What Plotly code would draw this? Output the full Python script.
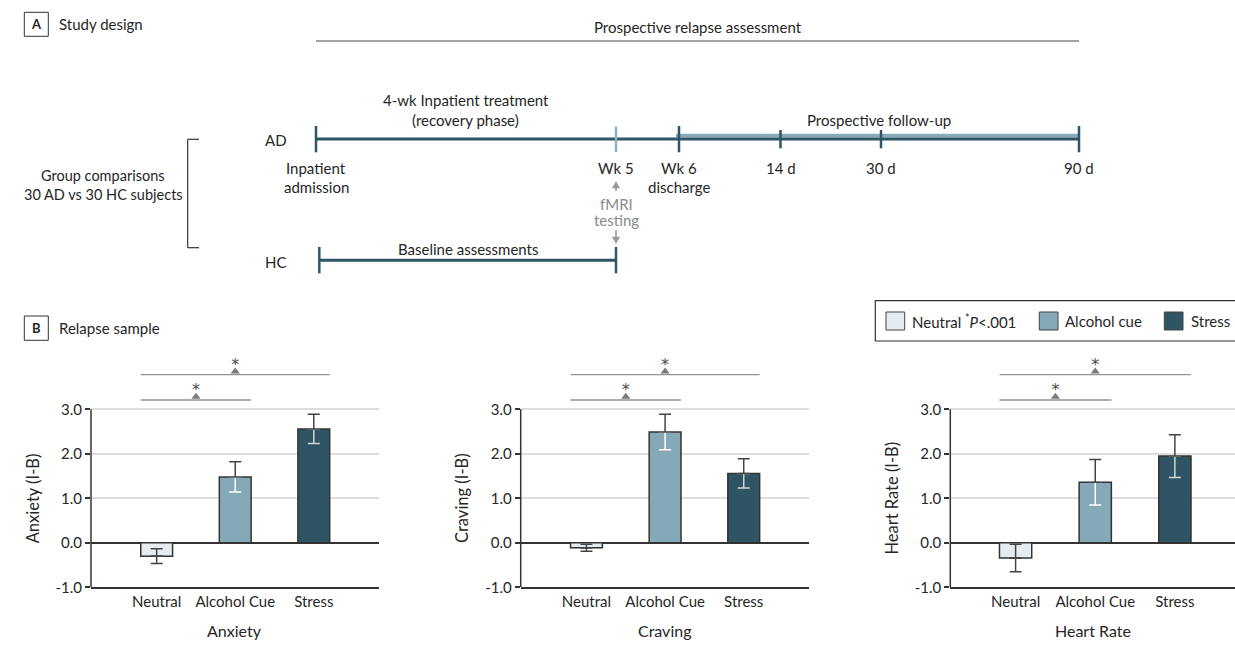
import plotly.graph_objects as go

# ---------------- data ----------------
conditions = ["Neutral", "Alcohol Cue", "Stress"]
legend_labels = ["Neutral <sup>*</sup><i>P</i>&lt;.001", "Alcohol cue", "Stress"]
measures = ["Anxiety", "Craving", "Heart Rate"]
y_titles = ["Anxiety (I-B)", "Craving (I-B)", "Heart Rate (I-B)"]

anxiety_mean = [-0.30, 1.48, 2.56]
anxiety_se = [0.165, 0.34, 0.33]
craving_mean = [-0.11, 2.49, 1.56]
craving_se = [0.08, 0.40, 0.33]
heart_rate_mean = [-0.34, 1.36, 1.95]
heart_rate_se = [0.31, 0.51, 0.48]

y_tickvals = [-1, 0, 1, 2, 3]
y_ticktext = ["-1.0", "0.0", "1.0", "2.0", "3.0"]

sig_pairs = [(0, 1), (0, 2)]   # Neutral vs Alcohol cue, Neutral vs Stress
sig_label = "*"

# timeline text
timeline_top = "Prospective relapse assessment"
timeline_marks = ["Inpatient<br>admission", "Wk 5", "Wk 6<br>discharge", "14 d", "30 d", "90 d"]

# ---------------- style ----------------
W, H = 1235, 651
FONT = "Lato"
TXT = "#262626"
AXC = "#333333"
TEAL = "#2f5564"
LIGHT = "#88abba"
bar_colors = ["#e5ebee", "#86a9b8", "#2f5564"]
inner_err_colors = ["#444444", "#ffffff", "#d0d6d9"]
BAR_W = 0.405
BR_LEVELS = [3.21, 3.78]

panels = [
    dict(mean=anxiety_mean, se=anxiety_se, dom=(91, 379), rng=(-0.836, 2.83)),
    dict(mean=craving_mean, se=craving_se, dom=(520.7, 809), rng=(-0.836, 2.83)),
    dict(mean=heart_rate_mean, se=heart_rate_se, dom=(950.3, 1235), rng=(-0.82, 2.755)),
]
Y_RANGE = [-1, 4.3]
Y_DOM = ((H - 587.3) / H, (H - 351.45) / H)


def px(x):
    return x / W


def py(y):
    return 1 - y / H


shapes = []
annotations = []


def text(s, x, y, size=15, color=TXT, xanchor="center", **kw):
    annotations.append(dict(text=s, x=px(x), y=py(y), xref="paper", yref="paper",
                            showarrow=False, xanchor=xanchor, yanchor="middle",
                            font=dict(family=FONT, size=size, color=color), **kw))


def line(x0, y0, x1, y1, color, width):
    shapes.append(dict(type="line", xref="paper", yref="paper", x0=px(x0), y0=py(y0),
                       x1=px(x1), y1=py(y1), line=dict(color=color, width=width)))


def rect(x0, y0, x1, y1, fill, lc, lw):
    shapes.append(dict(type="rect", xref="paper", yref="paper", x0=px(x0), y0=py(y0),
                       x1=px(x1), y1=py(y1), fillcolor=fill, line=dict(color=lc, width=lw)))


def tri(pts, color):
    d = "M " + " L ".join(f"{px(a)},{py(b)}" for a, b in pts) + " Z"
    shapes.append(dict(type="path", xref="paper", yref="paper", path=d,
                       fillcolor=color, line=dict(color=color, width=0.5)))


fig = go.Figure()

# ---------------- panel A: study design ----------------
rect(24.3, 12.3, 48.3, 36.3, "rgba(0,0,0,0)", AXC, 1)
text("<b>A</b>", 36.3, 24.5, size=13)
text("Study design", 57, 24, size=15, xanchor="left")

text(timeline_top, 698, 27)
line(316, 41, 1079, 41, "#858585", 1.5)

x_adm, x_wk5, x_wk6, x_14, x_30, x_90 = 316, 616, 679, 780.5, 881, 1079
y_ad, y_hc = 139, 260.3

text("AD", 275.5, 140)
rect(676, 133.8, x_90, 137.6, LIGHT, LIGHT, 0)
line(x_adm, y_ad, x_90, y_ad, TEAL, 3)
for xx in (x_adm, x_wk6, x_90):
    line(xx, 126, xx, 152.3, TEAL, 2.5)
for xx in (x_14, x_30):
    line(xx, 130, xx, 148.3, TEAL, 2.5)
line(x_wk5, 126.5, x_wk5, 152, "#8db2c2", 2.5)

mark_x = [x_adm, x_wk5, x_wk6, x_14, x_30, x_90]
for lab, xx in zip(timeline_marks, mark_x):
    parts = lab.split("<br>")
    for r, p in enumerate(parts):
        text(p, xx, 167.7 + 19 * r)

text("4-wk Inpatient treatment", 465.7, 100)
text("(recovery phase)", 465.7, 120)
text("Prospective follow-up", 879, 120)

# fMRI arrows
ARC = "#9a9a9a"
line(x_wk5, 187, x_wk5, 191, ARC, 1.6)
tri([(x_wk5, 181.5), (x_wk5 - 3.6, 188), (x_wk5 + 3.6, 188)], ARC)
line(x_wk5, 230, x_wk5, 237, ARC, 1.6)
tri([(x_wk5, 243.5), (x_wk5 - 3.6, 237), (x_wk5 + 3.6, 237)], ARC)
text("fMRI", x_wk5, 204.3, color="#8a8a8a")
text("testing", x_wk5, 220.5, color="#8a8a8a")

text("HC", 275, 261.7)
line(319.3, y_hc, x_wk5, y_hc, TEAL, 3)
for xx in (319.3, x_wk5):
    line(xx, 247, xx, 273.3, TEAL, 2.5)
text("Baseline assessments", 468, 249.3)

# group bracket
line(199, 139.3, 187.7, 139.3, AXC, 1.2)
line(187.7, 139.3, 187.7, 247.7, AXC, 1.2)
line(187.7, 247.7, 199, 247.7, AXC, 1.2)
text("Group comparisons", 103.3, 175, size=14.5)
text("30 AD vs 30 HC subjects", 103.3, 194, size=14.5)

# ---------------- panel B ----------------
rect(24.3, 316, 48.3, 340.3, "rgba(0,0,0,0)", AXC, 1)
text("<b>B</b>", 36.3, 328.3, size=13)
text("Relapse sample", 57, 328, size=15, xanchor="left")

# legend (manual)
rect(875.3, 300.7, 1240, 341, "rgba(0,0,0,0)", AXC, 1.2)
leg_sw = [886, 1039.3, 1164.3]
leg_tx = [910, 1063.3, 1189]
for c, sx, tx, lab in zip(bar_colors, leg_sw, leg_tx, legend_labels):
    rect(sx, 312, sx + 18.7, 330, c, "#444444", 1)
    text(lab, tx, 321.3, xanchor="left")

layout_axes = {}
for k, p in enumerate(panels):
    sfx = "" if k == 0 else str(k + 1)
    xa, ya = "x" + sfx, "y" + sfx
    xs = list(range(len(conditions)))
    mean, se = p["mean"], p["se"]

    fig.add_trace(go.Bar(x=xs, y=mean, width=BAR_W,
                         marker=dict(color=bar_colors, line=dict(color=AXC, width=1.5)),
                         xaxis=xa, yaxis=ya, showlegend=False, hoverinfo="skip"))
    # error bar part inside the bar
    for i in xs:
        m, e = mean[i], se[i]
        fig.add_trace(go.Scatter(
            x=[i], y=[m], mode="markers", marker=dict(size=1, color="rgba(0,0,0,0)"),
            error_y=dict(type="data", symmetric=False,
                         array=[e if m < 0 else 0], arrayminus=[e if m >= 0 else 0],
                         color=inner_err_colors[i], thickness=1.5, width=6),
            xaxis=xa, yaxis=ya, showlegend=False, hoverinfo="skip"))
    # error bar part outside the bar
    fig.add_trace(go.Scatter(
        x=xs, y=mean, mode="markers", marker=dict(size=1, color="rgba(0,0,0,0)"),
        error_y=dict(type="data", symmetric=False,
                     array=[e if m >= 0 else 0 for m, e in zip(mean, se)],
                     arrayminus=[e if m < 0 else 0 for m, e in zip(mean, se)],
                     color="#444444", thickness=1.5, width=6),
        xaxis=xa, yaxis=ya, showlegend=False, hoverinfo="skip"))

    # significance brackets
    for lvl, (i, j) in zip(BR_LEVELS, sig_pairs):
        fig.add_trace(go.Scatter(x=[i - BAR_W / 2, j + BAR_W / 2], y=[lvl, lvl], mode="lines",
                                 line=dict(color="#939393", width=1.4),
                                 xaxis=xa, yaxis=ya, showlegend=False, hoverinfo="skip"))
        fig.add_trace(go.Scatter(x=[(i + j) / 2], y=[lvl + 0.07], mode="markers",
                                 marker=dict(symbol="triangle-up", size=8, color="#7a7a7a"),
                                 xaxis=xa, yaxis=ya, showlegend=False, hoverinfo="skip",
                                 cliponaxis=False))
        fig.add_trace(go.Scatter(x=[(i + j) / 2], y=[lvl + 0.2], mode="text", text=[sig_label],
                                 textfont=dict(family="DejaVu Sans", size=16, color="#4a4a4a"),
                                 xaxis=xa, yaxis=ya, showlegend=False, hoverinfo="skip",
                                 cliponaxis=False))

    d0, d1 = p["dom"]
    layout_axes["xaxis" + sfx] = dict(
        domain=[px(d0), px(d1)], range=list(p["rng"]), anchor=ya, automargin=False,
        tickvals=xs, ticktext=conditions, showgrid=False, zeroline=False,
        showline=True, linecolor=AXC, linewidth=1.5, ticks="",
        tickfont=dict(family=FONT, size=15, color=TXT), fixedrange=True)
    layout_axes["yaxis" + sfx] = dict(
        domain=list(Y_DOM), range=Y_RANGE, anchor=xa, automargin=False,
        tickvals=y_tickvals, ticktext=y_ticktext,
        showgrid=True, gridcolor="#dedede", gridwidth=1.5,
        zeroline=True, zerolinecolor=AXC, zerolinewidth=1.5,
        showline=False, ticks="outside", ticklen=5, tickwidth=1.5, tickcolor=AXC,
        tickfont=dict(family=FONT, size=15, color=TXT), fixedrange=True)

    # y-axis line from -1 to 3
    shapes.append(dict(type="line", xref=xa + " domain", yref=ya, x0=0, x1=0,
                       y0=y_tickvals[0], y1=y_tickvals[-1], line=dict(color=AXC, width=1.5)))
    # axis titles
    annotations.append(dict(text=y_titles[k], xref=xa + " domain", yref=ya, x=0, y=1.0,
                            xshift=-58, textangle=-90, showarrow=False,
                            xanchor="center", yanchor="middle",
                            font=dict(family=FONT, size=16.5, color=TXT)))
    annotations.append(dict(text=measures[k], xref=xa + " domain", yref="paper", x=0.5,
                            y=py(630), showarrow=False, xanchor="center", yanchor="middle",
                            font=dict(family=FONT, size=16, color=TXT)))

fig.update_layout(
    width=W, height=H, margin=dict(l=0, r=0, t=0, b=0, pad=0, autoexpand=False),
    paper_bgcolor="white", plot_bgcolor="white",
    font=dict(family=FONT, size=15, color=TXT),
    shapes=shapes, annotations=annotations, showlegend=False,
    barmode="overlay", **layout_axes)

fig.write_html("out.html")
